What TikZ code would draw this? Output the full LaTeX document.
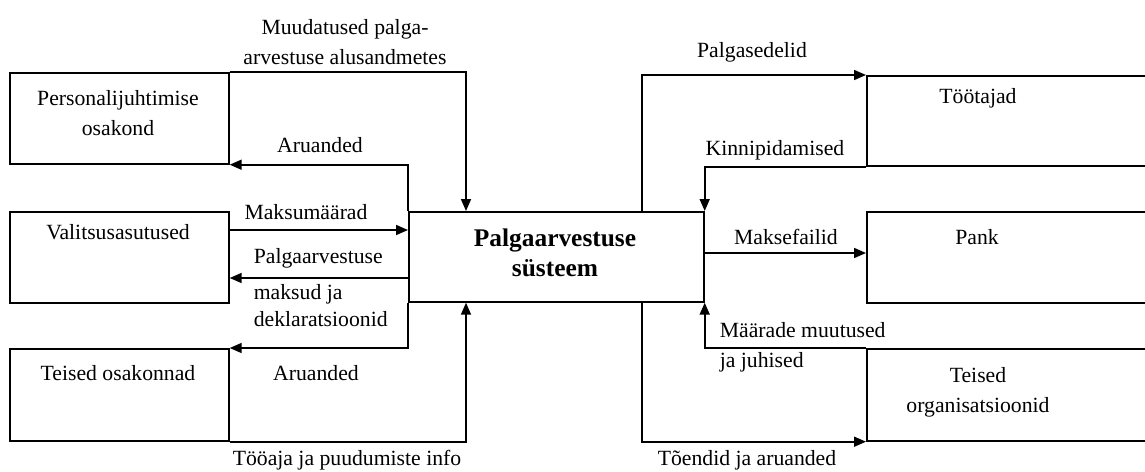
\documentclass[tikz,border=0pt]{standalone}
\usepackage{fontspec}
\setmainfont{Liberation Serif}
\usetikzlibrary{arrows.meta, calc}

\begin{document}
\begin{tikzpicture}[x=1pt, y=-1pt, >={Triangle[length=12pt, width=10pt]},
	line width=1.7pt, font=\fontsize{21.7}{30}\selectfont,
	box/.style={draw, inner sep=0pt, anchor=north west},
	lbl/.style={inner sep=0pt, align=center}]
	
	\useasboundingbox (0,0) rectangle (1145,471);
	\clip (0,0) rectangle (1145,471);
	
	%========================
	% Centre: the system
	%========================
	\node[box, minimum width=295pt, minimum height=90pt] (sys) at (408,211) {};
	\node[lbl, font=\fontsize{25.4}{30}\selectfont\bfseries] (systxt) at (555,253)
	{Palgaarvestuse\\süsteem};
	
	%========================
	% Left: sources inside the firm
	%========================
	\node[box, minimum width=219pt, minimum height=91pt] (hr) at (9,72) {};
	\node[lbl] (hrtxt) at (118,113) {Personalijuhtimise\\osakond};
	
	\node[box, minimum width=219pt, minimum height=91pt] (gov) at (9,211) {};
	\node[lbl] (govtxt) at (118,232) {Valitsusasutused};
	
	\node[box, minimum width=219pt, minimum height=92pt] (dept) at (9,348) {};
	\node[lbl] (depttxt) at (118,373) {Teised osakonnad};
	
	% flows
	\draw[->] (hr.north east) -| ([xshift=58pt]sys.north west);
	\node[lbl] (changes) at (345,42) {Muudatused palga-\\arvestuse alusandmetes};
	
	\draw[->] (sys.north west) |- (hr.south east);
	\node[lbl] (rep1) at (320,145) {Aruanded};
	
	\draw[->] ([yshift=-19pt]gov.north east) -- ([yshift=-19pt]sys.north west);
	\node[lbl] (rates) at (306,212) {Maksumäärad};
	
	\draw[->] ([yshift=-67pt]sys.north west) -- ([yshift=-67pt]gov.north east);
	\node[lbl, anchor=west] (taxes) at (253,258) {Palgaarvestuse};
	\node[lbl, anchor=west, align=left] (decl) at (253,306) {maksud ja\\[-3pt]deklaratsioonid};
	
	\draw[->] (sys.south west) |- (dept.north east);
	\node[lbl] (rep2) at (316,373) {Aruanded};
	
	\draw[->] (dept.south east) -| ([xshift=58pt]sys.south west);
	\node[lbl] (time) at (347,460) {Tööaja ja puudumiste info};
	
	%========================
	% Right: outside parties
	%========================
	\node[box, minimum width=300pt, minimum height=90pt] (emp) at (866,75) {};
	\node[lbl] (emptxt) at (978,98) {Töötajad};
	
	\node[box, minimum width=300pt, minimum height=91pt] (bank) at (866,211) {};
	\node[lbl] (banktxt) at (977,237) {Pank};
	
	\node[box, minimum width=300pt, minimum height=92pt] (org) at (866,348) {};
	\node[lbl] (orgtxt) at (978,392) {Teised\\organisatsioonid};
	
	% flows
	\draw[->] ([xshift=-63pt]sys.north east) |- (emp.north west);
	\node[lbl] (slips) at (752,52) {Palgasedelid};
	
	\draw[->] (emp.south west) -| (sys.north east);
	\node[lbl] (deduct) at (775,150) {Kinnipidamised};
	
	\draw[->] ([yshift=-42pt]sys.north east) -- ([yshift=-42pt]bank.north west);
	\node[lbl] (files) at (786,237) {Maksefailid};
	
	\draw[->] (org.north west) -| (sys.south east);
	\node[lbl, anchor=west, align=left] (rules) at (719,347) {Määrade muutused\\ja juhised};
	
	\draw[->] ([xshift=-63pt]sys.south east) |- (org.south west);
	\node[lbl] (certs) at (747,460) {Tõendid ja aruanded};
	
\end{tikzpicture}
\end{document}
